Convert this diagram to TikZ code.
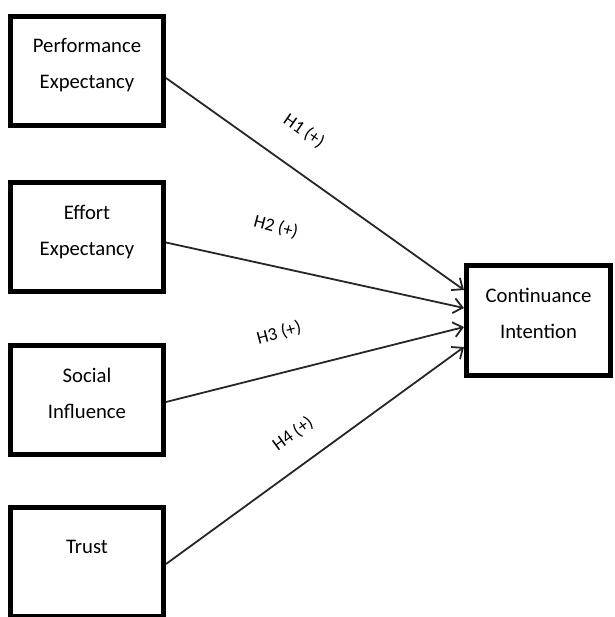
\documentclass[tikz,border=0pt]{standalone}
\usepackage{fontspec}
\setmainfont{Carlito}
\usetikzlibrary{arrows.meta, positioning}

\begin{document}
\begin{tikzpicture}[x=1pt, y=-1pt,
        construct/.style={draw, line width=5pt, minimum width=153pt, minimum height=109pt, inner sep=0pt},
        caption/.style={align=center, inner sep=0pt, font=\fontsize{20.7}{36}\selectfont},
        hyp/.style={inner sep=0pt, font=\fontsize{18.3}{22}\selectfont},
        link/.style={line width=1.8pt, draw=black!85, -{Straight Barb[length=9pt, width=15pt]}}]
        \useasboundingbox (0,0) rectangle (614,617);

        % Predictor column
        \node[construct] (pe) at (87,71) {};
        \node[construct, below=52pt of pe] (ee) {};
        \node[construct, below=49pt of ee] (si) {};
        \node[construct, below=48pt of si] (tr) {};

        % Outcome box
        \node[construct, minimum width=144pt, minimum height=110pt] (ci) at (538.5,320.5) {};

        % Box texts
        \node[caption, below=24pt of pe.north] (pe-text) {Performance\\Expectancy};
        \node[caption, below=24.5pt of ee.north] (ee-text) {Effort\\Expectancy};
        \node[caption, below=25pt of si.north] (si-text) {Social\\Influence};
        \node[caption, below=35pt of tr.north] (tr-text) {Trust};
        \node[caption, below=25pt of ci.north] (ci-text) {Continuance\\Intention};

        % Arrow ends on the outcome box
        \coordinate (ci-in1) at ([yshift=30.5pt]ci.west);
        \coordinate (ci-in2) at ([yshift=12.5pt]ci.west);
        \coordinate (ci-in3) at ([yshift=-6.5pt]ci.west);
        \coordinate (ci-in4) at ([yshift=-26.5pt]ci.west);

        % Hypothesis paths
        \draw[link] ([yshift=-7pt]pe.east) -- (ci-in1);
        \draw[link] ([yshift=-5.5pt]ee.east) -- (ci-in2);
        \draw[link] ([yshift=-2pt]si.east) -- (ci-in3);
        \draw[link] ([yshift=-2pt]tr.east) -- (ci-in4);

        % Path labels
        \node[hyp, rotate=-35] (h1) at (304,131) {H1 (+)};
        \node[hyp, rotate=-15] (h2) at (276,227) {H2 (+)};
        \node[hyp, rotate=15] (h3) at (279,333) {H3 (+)};
        \node[hyp, rotate=36] (h4) at (293,434) {H4 (+)};
    \end{tikzpicture}
\end{document}
